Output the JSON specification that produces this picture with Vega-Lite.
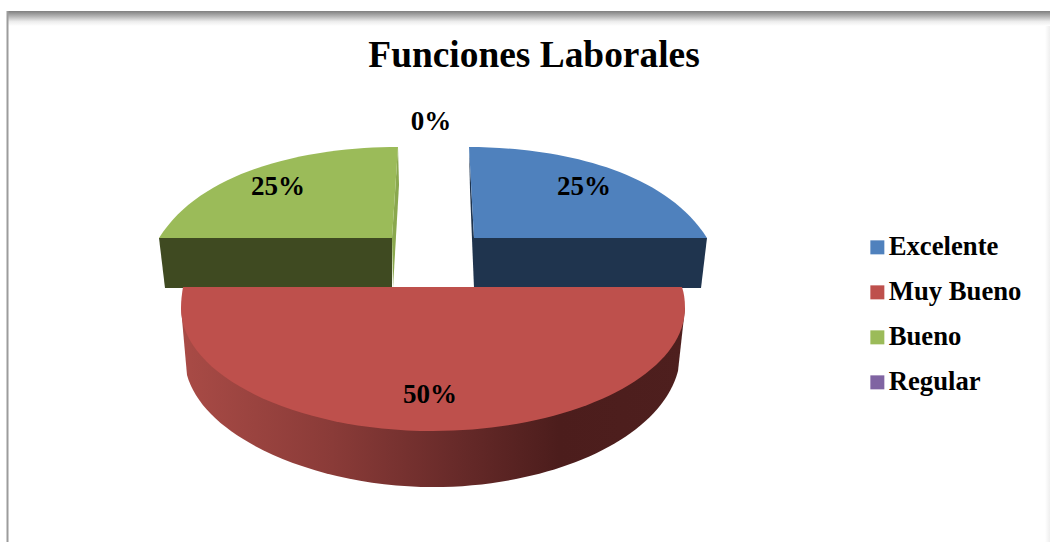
{"$schema":"https://vega.github.io/schema/vega-lite/v6.json","width":1050,"height":542,"autosize":"none","padding":0,"background":"white","view":{"stroke":null},
"title":{"text":"Funciones Laborales","font":"Liberation Serif","fontSize":37.4,"fontWeight":"bold","color":"#000000","anchor":"middle","dx":9,"offset":-104,"baseline":"alphabetic"},
"data":{"values":[{"categoria":"Excelente","share":0.25},{"categoria":"Muy Bueno","share":0.5},{"categoria":"Bueno","share":0.25},{"categoria":"Regular","share":0}]},
"encoding":{},
"layer":[
{"data":{"values":[{"marco":"superior"}]},"mark":{"type":"point","filled":true,"size":4,"opacity":1,"strokeWidth":0,"shape":"M-517,-260 L525,-260 L525,-245 L-517,-245 Z","fill":{"gradient":"linear","x1":0,"y1":0,"x2":0,"y2":1,"stops":[{"offset":0,"color":"#7f7f7f"},{"offset":0.35,"color":"#b4b4b4"},{"offset":0.7,"color":"#ececec"},{"offset":1,"color":"#ffffff"}]}}},
{"data":{"values":[{"marco":"izquierdo"}]},"mark":{"type":"point","filled":true,"size":4,"opacity":1,"strokeWidth":0,"fill":"#9c9c9c","shape":"M-518.5,-260 L-516.5,-260 L-516.5,271 L-518.5,271 Z"}},
{"data":{"values":[{"marco":"derecho"}]},"mark":{"type":"point","filled":true,"size":4,"opacity":1,"strokeWidth":0,"shape":"M520,-245 L525,-245 L525,271 L520,271 Z","fill":{"gradient":"linear","x1":0,"y1":0,"x2":1,"y2":0,"stops":[{"offset":0,"color":"#ffffff"},{"offset":1,"color":"#efefef"}]}}},
{"transform":[{"filter":"datum.categoria==='Bueno'"}],"mark":{"type":"point","filled":true,"size":4,"opacity":1,"strokeWidth":0,"fill":"#3f4a21","shape":"M-366,-33 L-133,-33 L-133,17 L-360,17 Z"}},
{"transform":[{"filter":"datum.categoria==='Bueno'"}],"mark":{"type":"point","filled":true,"size":4,"opacity":1,"strokeWidth":0,"fill":"#8aa84e","shape":"M-127,-124 L-126,-86 L-132,17 L-133,-33 Z"}},
{"transform":[{"filter":"datum.categoria==='Excelente'"}],"mark":{"type":"point","filled":true,"size":4,"opacity":1,"strokeWidth":0,"fill":"#1f344e","shape":"M-51,-33 L182,-33 L176,17 L-51,17 Z"}},
{"transform":[{"filter":"datum.categoria==='Excelente'"}],"mark":{"type":"point","filled":true,"size":4,"opacity":1,"strokeWidth":0,"fill":"#1f344e","shape":"M-56,-124 L-55,-81 L-51,17 L-51,-33 Z"}},
{"transform":[{"filter":"datum.categoria==='Muy Bueno'"}],"mark":{"type":"point","filled":true,"size":4,"opacity":1,"strokeWidth":0,"shape":"M-344,37 L-338,104 C-320,169 -205,216 -92,216 C25,216 135,169 153,100 L160,37 Z","fill":{"gradient":"linear","x1":0,"y1":0,"x2":1,"y2":0,"stops":[{"offset":0,"color":"#a94b46"},{"offset":0.3,"color":"#8a3b38"},{"offset":0.55,"color":"#672a29"},{"offset":0.75,"color":"#4c1d1c"},{"offset":1,"color":"#4e1f1e"}]}}},
{"transform":[{"filter":"datum.categoria==='Excelente'"}],"mark":{"type":"point","filled":true,"size":4,"opacity":1,"strokeWidth":0,"shape":"M-56,-124 C21,-124 136,-106 182,-33 L-51,-33 Z"},"encoding":{"color":{"field":"categoria","type":"nominal","scale":{"domain":["Excelente","Muy Bueno","Bueno","Regular"],"range":["#4f81bd","#be504c","#9bbb59","#8064a2"]},"legend":{"title":null,"orient":"none","legendX":864,"legendY":234,"symbolType":"square","symbolSize":196,"symbolStrokeWidth":0,"labelFont":"Liberation Serif","labelFontSize":26.7,"labelFontWeight":"bold","labelColor":"#000000","labelOffset":-2,"rowPadding":17,"symbolOpacity":1}}}},
{"transform":[{"filter":"datum.categoria==='Muy Bueno'"}],"mark":{"type":"point","filled":true,"size":4,"opacity":1,"strokeWidth":0,"shape":"M-342,16 L157,16 C159,22 160,29 160,37 C160,104 47,160 -92,160 C-231,160 -344,104 -344,37 C-344,29 -343,22 -342,16 Z"},"encoding":{"color":{"field":"categoria","type":"nominal"}}},
{"transform":[{"filter":"datum.categoria==='Bueno'"}],"mark":{"type":"point","filled":true,"size":4,"opacity":1,"strokeWidth":0,"shape":"M-127,-124 C-205,-124 -320,-106 -366,-33 L-133,-33 Z"},"encoding":{"color":{"field":"categoria","type":"nominal"}}},
{"transform":[{"filter":"datum.categoria==='Excelente'"}],"mark":{"type":"text","font":"Liberation Serif","fontSize":27,"fontWeight":"bold","color":"#000000","baseline":"middle","dx":59,"dy":-84},"encoding":{"text":{"field":"share","type":"quantitative","format":".0%"}}},
{"transform":[{"filter":"datum.categoria==='Muy Bueno'"}],"mark":{"type":"text","font":"Liberation Serif","fontSize":27,"fontWeight":"bold","color":"#000000","baseline":"middle","dx":-95,"dy":124},"encoding":{"text":{"field":"share","type":"quantitative","format":".0%"}}},
{"transform":[{"filter":"datum.categoria==='Bueno'"}],"mark":{"type":"text","font":"Liberation Serif","fontSize":27,"fontWeight":"bold","color":"#000000","baseline":"middle","dx":-247,"dy":-84},"encoding":{"text":{"field":"share","type":"quantitative","format":".0%"}}},
{"transform":[{"filter":"datum.categoria==='Regular'"}],"mark":{"type":"text","font":"Liberation Serif","fontSize":27,"fontWeight":"bold","color":"#000000","baseline":"middle","dx":-94,"dy":-149},"encoding":{"text":{"field":"share","type":"quantitative","format":".0%"}}}
]}
